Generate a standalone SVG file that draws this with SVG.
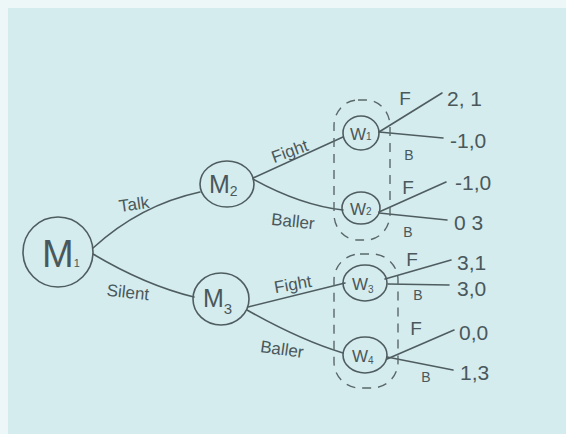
<svg xmlns="http://www.w3.org/2000/svg" width="566" height="434" viewBox="0 0 566 434">
<style>
.ln{fill:none;stroke:#4f5d60;stroke-width:1.6;stroke-linecap:round}
.nd{fill:none;stroke:#4f5d60;stroke-width:1.6}
.ds{fill:none;stroke:#5a686a;stroke-width:1.4;stroke-dasharray:9 7}
.t{font-family:"Liberation Sans",Arial,sans-serif;fill:#4a585b}
.lab{font-size:17px}
.f{font-size:19px}
.pay{font-size:21px}
.sm{font-size:14px}
</style>
<rect x="0" y="0" width="566" height="434" fill="#eef7f7"/>
<rect x="8" y="8" width="558" height="426" fill="#d4ecee"/>
<g id="connectors">
<path class="ln" d="M93,248 Q140,205 200,192"/>
<path class="ln" d="M93,254 Q145,285 194,297"/>
<path class="ln" d="M253,178 L343,137"/>
<path class="ln" d="M253,179 Q300,205 343,210"/>
<path class="ln" d="M248,307 L345,283"/>
<path class="ln" d="M247,310 Q300,340 343,353"/>
<path class="ln" d="M379,132 L442,93"/>
<path class="ln" d="M379,132 L443,138"/>
<path class="ln" d="M379,212 L446,182"/>
<path class="ln" d="M379,213 L447,220"/>
<path class="ln" d="M385,279 L451,260"/>
<path class="ln" d="M388,284 L449,285"/>
<path class="ln" d="M387,359 L454,330"/>
<path class="ln" d="M387,357 L453,370"/>
</g>
<g id="infosets">
<rect class="ds" x="334" y="100" width="56" height="140" rx="24" ry="26"/>
<rect class="ds" x="334" y="254" width="64" height="134" rx="26" ry="26"/>
</g>
<g id="M1"><ellipse class="nd" cx="58" cy="252" rx="35" ry="35"/><text class="t" x="42" y="267" font-size="38">M<tspan font-size="11">1</tspan></text></g>
<g id="M2"><ellipse class="nd" cx="227" cy="184" rx="27" ry="23"/><text class="t" x="209" y="193" font-size="25">M<tspan font-size="14" dy="3">2</tspan></text></g>
<g id="M3"><ellipse class="nd" cx="221" cy="299" rx="28" ry="26"/><text class="t" x="203" y="307" font-size="25">M<tspan font-size="15" dy="7">3</tspan></text></g>
<g id="W1"><ellipse class="nd" cx="361" cy="133" rx="18" ry="17"/><text class="t" x="350" y="140" font-size="17">W<tspan font-size="10">1</tspan></text></g>
<g id="W2"><ellipse class="nd" cx="361" cy="208" rx="19" ry="16"/><text class="t" x="350" y="215" font-size="17">W<tspan font-size="10">2</tspan></text></g>
<g id="W3"><ellipse class="nd" cx="365" cy="283" rx="22" ry="18"/><text class="t" x="352" y="290" font-size="17">W<tspan font-size="10" dy="3">3</tspan></text></g>
<g id="W4"><ellipse class="nd" cx="365" cy="355" rx="22" ry="18"/><text class="t" x="352" y="362" font-size="17">W<tspan font-size="10" dy="2">4</tspan></text></g>
<g id="labels">
<text class="t lab" x="134" y="210" text-anchor="middle" transform="rotate(-8 134 204)">Talk</text>
<text class="t lab" x="128" y="298" text-anchor="middle" transform="rotate(6 128 292)">Silent</text>
<text class="t lab" x="290" y="157" text-anchor="middle" transform="rotate(-20 290 152)">Fight</text>
<text class="t lab" x="293" y="227" text-anchor="middle" transform="rotate(6 293 221)">Baller</text>
<text class="t lab" x="293" y="290" text-anchor="middle" transform="rotate(-10 293 285)">Fight</text>
<text class="t lab" x="282" y="355" text-anchor="middle" transform="rotate(8 282 349)">Baller</text>
<text class="t f" x="405" y="105" text-anchor="middle">F</text>
<text class="t sm" x="409" y="160" text-anchor="middle">B</text>
<text class="t f" x="408" y="194" text-anchor="middle">F</text>
<text class="t sm" x="408" y="237" text-anchor="middle">B</text>
<text class="t f" x="412" y="266" text-anchor="middle">F</text>
<text class="t sm" x="418" y="300" text-anchor="middle">B</text>
<text class="t f" x="416" y="335" text-anchor="middle">F</text>
<text class="t sm" x="426" y="382" text-anchor="middle">B</text>
</g>
<g id="payoffs">
<text class="t pay" x="447" y="106">2, 1</text>
<text class="t pay" x="450" y="148">-1,0</text>
<text class="t pay" x="455" y="190">-1,0</text>
<text class="t pay" x="454" y="230">0 3</text>
<text class="t pay" x="457" y="270">3,1</text>
<text class="t pay" x="457" y="296">3,0</text>
<text class="t pay" x="459" y="340">0,0</text>
<text class="t pay" x="460" y="380">1,3</text>
</g>
</svg>
